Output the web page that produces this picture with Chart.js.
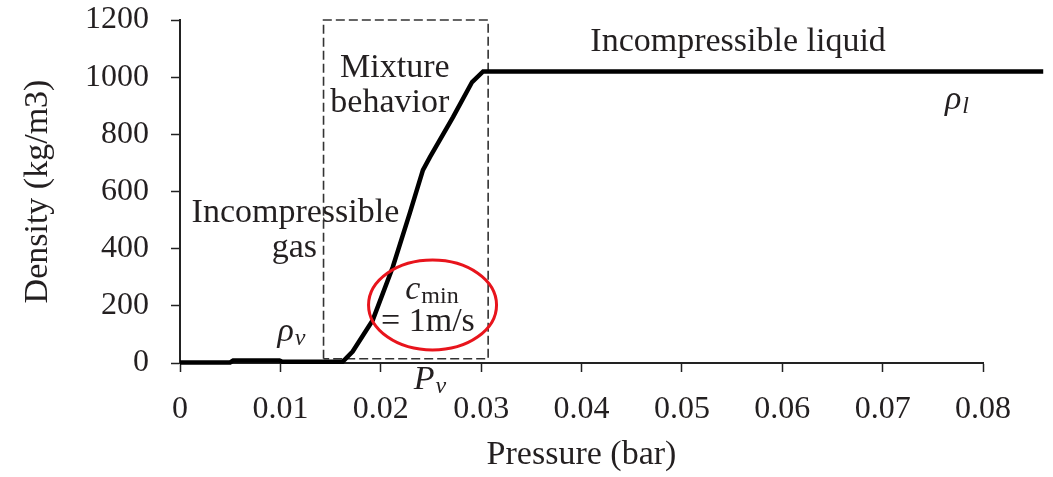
<!DOCTYPE html>
<html>
<head>
<meta charset="utf-8">
<script src="https://cdn.jsdelivr.net/npm/chart.js@4/dist/chart.umd.min.js"></script>
<style>
  html, body { margin: 0; padding: 0; background: #fff; }
  #wrap { width: 1053px; height: 477px; }
</style>
</head>
<body>
<div id="wrap"><canvas id="density-chart" width="1053" height="477"></canvas></div>
<script>
// density vs pressure curve (bar, kg/m3)
const pressure = [0, 0.005, 0.0053, 0.0099, 0.0102, 0.0162, 0.0172, 0.0192, 0.0212, 0.0229, 0.0242, 0.0249, 0.0272, 0.0291, 0.0302, 0.086];
const density  = [2, 2, 9, 9, 4, 4, 40, 150, 336, 525, 675, 720, 860, 983, 1020, 1020];

// dashed region marking the mixture zone
const boxPressure = [0.0143, 0.0143, 0.0307, 0.0307, 0.0143];
const boxDensity  = [15, 1200, 1200, 15, 15];

const xTicks = [0, 0.01, 0.02, 0.03, 0.04, 0.05, 0.06, 0.07, 0.08];
const yTicks = [0, 200, 400, 600, 800, 1000, 1200];

// text notes: base text, optional subscript, anchor in data units
const notes = [
  { text: 'Incompressible liquid', x: 0.0556, y: 1123 },
  { text: 'Mixture', x: 0.0214, y: 1032 },
  { text: 'behavior', x: 0.0209, y: 910 },
  { text: 'Incompressible', x: 0.0115, y: 525 },
  { text: 'gas', x: 0.0114, y: 402 },
  { text: 'ρ', sub: 'v', italic: true, subItalic: true, x: 0.0111, y: 108 },
  { text: 'ρ', sub: 'l', italic: true, subItalic: true, x: 0.0774, y: 920 },
  { text: 'P', sub: 'v', italic: true, subItalic: true, x: 0.0249, y: -60 },
  { text: 'c', sub: 'min', italic: true, subItalic: false, x: 0.0251, y: 255 },
  { text: '= 1m/s', x: 0.0247, y: 143 }
];

// highlighted point of minimum sound speed
const ringCenter = { x: 0.02516, y: 203 };

const SERIF = '"Liberation Serif", "DejaVu Serif", serif';
const INK = '#231f20';

const notesPlugin = {
  id: 'notes',
  beforeDatasetsDraw(chart) {
    const { ctx, scales: { x, y } } = chart;
    ctx.save();
    ctx.fillStyle = INK;
    ctx.textBaseline = 'middle';
    notes.forEach(n => {
      const px = x.getPixelForValue(n.x);
      const py = y.getPixelForValue(n.y);
      const baseFont = (n.italic ? 'italic ' : '') + '34px ' + SERIF;
      const subFont = (n.subItalic ? 'italic ' : '') + '24px ' + SERIF;
      ctx.font = baseFont;
      const w1 = ctx.measureText(n.text).width;
      let w2 = 0;
      if (n.sub) {
        ctx.font = subFont;
        w2 = ctx.measureText(n.sub).width + 1;
      }
      const left = px - (w1 + w2) / 2;
      ctx.textAlign = 'left';
      ctx.font = baseFont;
      ctx.fillText(n.text, left, py);
      if (n.sub) {
        ctx.font = subFont;
        ctx.fillText(n.sub, left + w1 + 1, py + 7);
      }
    });
    ctx.restore();
  },
  afterDatasetsDraw(chart) {
    const { ctx, scales: { x, y } } = chart;
    ctx.save();
    ctx.strokeStyle = '#e8141c';
    ctx.lineWidth = 3;
    ctx.beginPath();
    ctx.ellipse(x.getPixelForValue(ringCenter.x), y.getPixelForValue(ringCenter.y), 64, 45, 0, 0, Math.PI * 2);
    ctx.stroke();

    // axis titles
    ctx.fillStyle = INK;
    ctx.font = '34px ' + SERIF;
    ctx.textAlign = 'center';
    ctx.textBaseline = 'middle';
    const midX = (x.getPixelForValue(0) + x.getPixelForValue(0.08)) / 2;
    ctx.fillText('Pressure (bar)', midX, 455);
    ctx.translate(38, (chart.chartArea.top + chart.chartArea.bottom) / 2);
    ctx.rotate(-Math.PI / 2);
    ctx.fillText('Density (kg/m3)', 0, 0);
    ctx.restore();
  }
};

new Chart(document.getElementById('density-chart'), {
  type: 'line',
  data: {
    datasets: [
      {
        data: pressure.map((p, i) => ({ x: p, y: density[i] })),
        borderColor: '#000',
        borderWidth: 4.5,
        pointRadius: 0,
        tension: 0,
        clip: false,
        order: 1
      },
      {
        data: boxPressure.map((p, i) => ({ x: p, y: boxDensity[i] })),
        borderColor: '#333',
        borderWidth: 1.6,
        borderDash: [9, 4],
        pointRadius: 0,
        tension: 0,
        clip: false,
        order: 2
      }
    ]
  },
  options: {
    responsive: false,
    devicePixelRatio: 1,
    animation: false,
    layout: { padding: { top: 0, right: 70, left: 0, bottom: 0 } },
    plugins: { legend: { display: false }, tooltip: { enabled: false } },
    scales: {
      x: {
        type: 'linear',
        min: 0,
        max: 0.08,
        afterBuildTicks: axis => { axis.ticks = xTicks.map(v => ({ value: v })); },
        afterFit: axis => { axis.height = 114; },
        grid: { drawOnChartArea: false, tickLength: 9, color: '#222', tickWidth: 1.5 },
        border: { color: '#222', width: 2 },
        ticks: {
          color: INK,
          padding: 18,
          maxRotation: 0,
          font: { family: SERIF, size: 32 },
          callback: v => (v === 0 ? '0' : v.toFixed(2))
        }
      },
      y: {
        min: 0,
        max: 1200,
        afterBuildTicks: axis => { axis.ticks = yTicks.map(v => ({ value: v })); },
        afterFit: axis => {
          axis.width = 180;
          // keep the plot top at 20px regardless of the label gap
          axis.paddingTop = 20;
          axis.paddingBottom = 0;
        },
        grid: { drawOnChartArea: false, tickLength: 9, color: '#222', tickWidth: 1.5 },
        border: { color: '#222', width: 2 },
        ticks: {
          color: INK,
          padding: 22,
          font: { family: SERIF, size: 32 },
          callback: v => String(v)
        }
      }
    }
  },
  plugins: [notesPlugin]
});
</script>
</body>
</html>
